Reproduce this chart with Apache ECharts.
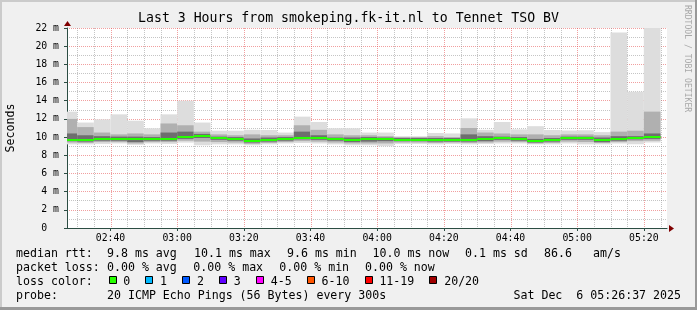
<!DOCTYPE html>
<html><head><meta charset="utf-8">
<script src="https://cdn.jsdelivr.net/npm/echarts@6/dist/echarts.min.js"></script>
<style>html,body{margin:0;padding:0;background:#f0f0f0}#c{width:697px;height:310px}</style>
</head><body><div id="c"></div>
<script>
// ---- data ----
const stepEnds = ['02:30','02:35','02:40','02:45','02:50','02:55','03:00','03:05','03:10','03:15','03:20','03:25',
  '03:30','03:35','03:40','03:45','03:50','03:55','04:00','04:05','04:10','04:15','04:20','04:25',
  '04:30','04:35','04:40','04:45','04:50','04:55','05:00','05:05','05:10','05:15','05:20','05:25'];
const maxPing = [12.8,11.6,11.95,12.5,11.8,10.97,12.5,14.0,11.6,10.7,10.7,10.8,10.78,10.5,12.25,11.66,10.97,10.97,
  10.5,10.5,10.1,10.1,10.45,10.4,12.06,10.8,11.66,10.85,11.2,10.78,10.72,10.75,10.55,21.5,15.0,22.0];
const upperQ = [12.0,11.1,10.5,10.3,10.4,10.3,11.5,11.3,10.6,10.3,10.2,10.3,10.2,10.2,11.3,10.8,10.3,10.2,
  10.2,10.1,10.0,10.0,10.1,10.0,11.0,10.5,10.4,10.3,10.3,10.2,10.3,10.3,10.2,10.6,10.7,12.8];
const upperD = [10.4,10.2,10.1,10.05,10.05,10.0,10.5,10.6,10.35,10.05,10.0,9.85,9.95,10.0,10.6,10.2,9.95,9.95,
  10.0,9.95,9.9,9.9,9.9,9.9,10.3,10.1,10.05,10.0,9.8,9.9,10.05,10.05,9.95,10.1,10.1,10.4];
const medianRtt = [9.72,9.68,9.83,9.83,9.76,9.83,9.83,10.05,10.12,9.94,9.83,9.62,9.72,9.83,9.94,9.9,9.79,9.68,
  9.81,9.83,9.72,9.72,9.7,9.68,9.7,9.83,9.9,9.83,9.6,9.72,9.94,9.94,9.72,9.83,9.94,9.98];
const lowerD = [9.55,9.5,9.6,9.6,9.45,9.6,9.6,9.8,9.9,9.7,9.6,9.4,9.5,9.6,9.75,9.7,9.6,9.45,
  9.5,9.55,9.55,9.55,9.5,9.5,9.5,9.55,9.7,9.6,9.4,9.5,9.7,9.7,9.45,9.6,9.75,9.8];
const lowerQ = [9.4,9.35,9.45,9.45,9.3,9.45,9.45,9.6,9.5,9.45,9.4,9.25,9.35,9.45,9.55,9.5,9.4,9.3,
  9.3,9.3,9.4,9.4,9.35,9.4,9.35,9.4,9.5,9.45,9.3,9.35,9.5,9.45,9.35,9.45,9.55,9.6];
const minPing = [9.2,9.2,9.25,9.3,9.15,9.3,9.25,9.4,9.1,9.2,9.2,9.1,9.2,9.3,9.35,9.3,9.2,9.1,
  9.1,9.0,9.25,9.25,9.2,9.25,9.2,9.25,9.3,9.3,9.2,9.2,9.3,9.2,9.2,9.3,9.2,9.4];
const xTickLabels = ['02:40','03:00','03:20','03:40','04:00','04:20','04:40','05:00','05:20'];
const minorGridTimes = ['02:30','02:35','02:45','02:50','02:55','03:05','03:10','03:15','03:25','03:30','03:35',
  '03:45','03:50','03:55','04:05','04:10','04:15','04:25','04:30','04:35','04:45','04:50','04:55',
  '05:05','05:10','05:15','05:25'];
const windowStart = '02:26:57';   // 3-hour window start
const title = 'Last 3 Hours from smokeping.fk-it.nl to Tennet TSO BV';
const rttLabel = 'median rtt:';
const rttStats = ['9.8 ms avg','10.1 ms max','9.6 ms min','10.0 ms now','0.1 ms sd','86.6','am/s'];
const lossLabel = 'packet loss:';
const lossStats = ['0.00 % avg','0.00 % max','0.00 % min','0.00 % now'];
const lossColorLabel = 'loss color:';
const lossClasses = ['0','1','2','3','4-5','6-10','11-19','20/20'];
const lossColors = ['#26ff00','#00b8ff','#0059ff','#5e00ff','#ff00ff','#ff5500','#ff0000','#a00000'];
const probeLabel = 'probe:';
const probeText = '20 ICMP Echo Pings (56 Bytes) every 300s';
const dateText = 'Sat Dec  6 05:26:37 2025';
const watermark = 'RRDTOOL / TOBI OETIKER';

// ---- helpers ----
const toSec = s => { const p = s.split(':').map(Number); return p[0] * 3600 + p[1] * 60 + (p[2] || 0); };
const T0 = toSec(windowStart);
const toX = s => toSec(s) - T0;          // seconds since window start
const SPAN = 3 * 3600, STEP = 300;
const FONT = 'DejaVu Sans Mono';
const MINOR_COL = 'rgba(140,140,140,0.5)';
const MAJOR_COL = 'rgba(230,80,80,0.55)';
const tickX = xTickLabels.map(toX);

const smokeData = stepEnds.map((t, i) => [toX(t), minPing[i], lowerQ[i], lowerD[i], medianRtt[i], upperD[i], upperQ[i], maxPing[i]]);
const medData = stepEnds.map((t, i) => [toX(t), medianRtt[i]]);
const gridData = minorGridTimes.map(t => [toX(t), 0]).concat(xTickLabels.map(t => [toX(t), 1]));

const bands = [[1, 7, '#dddddd'], [2, 6, '#b0b0b0'], [3, 5, '#6e6e6e']];

// legend graphics
const graphics = [];
const txt = (text, x, y, extra) => ({ type: 'text', x, y, style: Object.assign({ text, font: '11.6px "' + FONT + '"', fill: '#000', textAlign: 'left', textVerticalAlign: 'middle' }, extra || {}) });
const rowY = [254.3, 268.3, 282, 296.3];
graphics.push(txt(rttLabel, 16, rowY[0]));
[107, 194, 287, 372.5, 465, 544, 593].forEach((x, i) => graphics.push(txt(rttStats[i], x, rowY[0])));
graphics.push(txt(lossLabel, 16, rowY[1]));
[107, 193.3, 279.3, 365].forEach((x, i) => graphics.push(txt(lossStats[i], x, rowY[1])));
graphics.push(txt(lossColorLabel, 16, rowY[2]));
let lx = 108.5;
lossClasses.forEach((c, i) => {
  graphics.push({ type: 'rect', shape: { x: Math.round(lx) + 0.5, y: 276.5, width: 7, height: 7 }, style: { fill: lossColors[i], stroke: '#000', lineWidth: 1 } });
  const tx = lx + 14.7;
  graphics.push(txt(c, tx, rowY[2]));
  lx = tx + c.length * 6.98 + 15.2;
});
graphics.push(txt(probeLabel, 16, rowY[3]));
graphics.push(txt(probeText, 107, rowY[3]));
graphics.push(txt(dateText, 681, rowY[3], { textAlign: 'right' }));
graphics.push({ type: 'text', x: 687, y: 5, rotation: -Math.PI / 2, style: { text: watermark, font: '8.1px "' + FONT + '"', fill: '#a8a8a8', textAlign: 'left', textVerticalAlign: 'middle' } });
// frame
graphics.push({ type: 'rect', shape: { x: 0, y: 0, width: 697, height: 2 }, style: { fill: '#cbcbcb' } });
graphics.push({ type: 'rect', shape: { x: 0, y: 0, width: 2, height: 310 }, style: { fill: '#cbcbcb' } });
graphics.push({ type: 'rect', shape: { x: 0, y: 307, width: 697, height: 3 }, style: { fill: '#999999' } });
graphics.push({ type: 'rect', shape: { x: 695, y: 0, width: 2, height: 310 }, style: { fill: '#999999' } });
// axis arrows
graphics.push({ type: 'polygon', shape: { points: [[669, 225], [669, 232], [674, 228.5]] }, style: { fill: '#7f0000' }, z: 10 });
graphics.push({ type: 'polygon', shape: { points: [[64, 26], [71, 26], [67.5, 21]] }, style: { fill: '#7f0000' }, z: 10 });

const chart = echarts.init(document.getElementById('c'));
chart.setOption({
  animation: false,
  backgroundColor: '#f0f0f0',
  title: { text: title, left: 'center', top: 12, padding: 0,
    textStyle: { fontFamily: FONT, fontSize: 13.2, fontWeight: 'normal', color: '#000' } },
  grid: { left: 67, top: 28, width: 600, height: 200, show: true, backgroundColor: '#ffffff', borderWidth: 0,
    containLabel: false, outerBoundsMode: 'none' },
  xAxis: {
    type: 'value', min: 0, max: SPAN, interval: 1200,
    axisLine: { show: true, onZero: false, lineStyle: { color: '#2c4d43', width: 1 } },
    axisTick: { show: true, length: 3, customValues: tickX, lineStyle: { color: '#2c4d43' } },
    axisLabel: { customValues: tickX, margin: 5, fontFamily: FONT, fontSize: 9.8, color: '#000',
      formatter: v => { const i = tickX.indexOf(Math.round(v)); return i >= 0 ? xTickLabels[i] : ''; } },
    splitLine: { show: false }
  },
  yAxis: {
    type: 'value', min: 0, max: 22, interval: 2,
    name: 'Seconds', nameLocation: 'middle', nameGap: 50, nameRotate: 90,
    nameTextStyle: { fontFamily: FONT, fontSize: 11.6, color: '#000' },
    axisLine: { show: true, lineStyle: { color: '#2c4d43', width: 1 } },
    axisTick: { show: true, length: 3, lineStyle: { color: '#2c4d43' } },
    axisLabel: { margin: 8, align: 'right', fontFamily: FONT, fontSize: 9.8, color: '#000',
      formatter: v => v === 0 ? '0  ' : v + ' m' },
    splitLine: { show: true, lineStyle: { color: MAJOR_COL, type: [1, 1], width: 1 } },
    minorTick: { show: false, splitNumber: 2 },
    minorSplitLine: { show: true, lineStyle: { color: MINOR_COL, type: [1, 1], width: 1 } }
  },
  graphic: graphics,
  series: [
    { type: 'custom', name: 'vgrid', z: 1, silent: true, data: gridData,
      encode: { x: 0 },
      renderItem: (params, api) => {
        const t = api.value(0);
        const p0 = api.coord([t, 22]), p1 = api.coord([t, 0]);
        const x = Math.round(p0[0]) + 0.5;
        return { type: 'line', shape: { x1: x, y1: p0[1], x2: x, y2: p1[1] },
          style: { stroke: api.value(1) ? MAJOR_COL : MINOR_COL, lineWidth: 1, lineDash: [1, 1] } };
      } },
    { type: 'custom', name: 'smoke', z: 3, silent: true, data: smokeData,
      encode: { x: 0, y: [1, 7] },
      renderItem: (params, api) => {
        const t1 = api.value(0), t0 = Math.max(t1 - STEP, 0);
        return { type: 'group', children: bands.map(([lo, hi, c]) => {
          const p0 = api.coord([t0, api.value(hi)]), p1 = api.coord([t1, api.value(lo)]);
          return { type: 'rect', shape: { x: p0[0], y: p0[1], width: p1[0] - p0[0], height: p1[1] - p0[1] }, style: { fill: c } };
        }) };
      } },
    { type: 'custom', name: 'median rtt', z: 4, silent: true, data: medData,
      encode: { x: 0, y: 1 },
      renderItem: (params, api) => {
        const t1 = api.value(0), t0 = Math.max(t1 - STEP, 0);
        const p0 = api.coord([t0, api.value(1)]), p1 = api.coord([t1, api.value(1)]);
        const y = Math.round(p0[1]);
        return { type: 'line', shape: { x1: p0[0], y1: y, x2: p1[0], y2: y }, style: { stroke: lossColors[0], lineWidth: 2 } };
      } }
  ]
});
</script></body></html>
